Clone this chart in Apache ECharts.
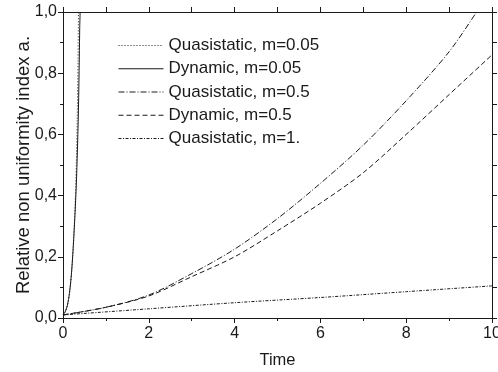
<!DOCTYPE html>
<html>
<head>
<meta charset="utf-8">
<script src="https://cdn.jsdelivr.net/npm/echarts@6/dist/echarts.min.js"></script>
<style>html,body{margin:0;padding:0;background:#fff}#c{width:498px;height:372px}</style>
</head>
<body>
<div id="c"></div>
<script>
// ---- data ----
var seriesNames = ['Quasistatic, m=0.05', 'Dynamic, m=0.05', 'Quasistatic, m=0.5', 'Dynamic, m=0.5', 'Quasistatic, m=1.'];

var qs005_t = [0, 0.05, 0.1, 0.15, 0.2, 0.25, 0.28, 0.31, 0.33, 0.35, 0.36];
var qs005_a = [0.01, 0.02, 0.04, 0.08, 0.15, 0.26, 0.36, 0.50, 0.64, 0.84, 1.0];

var dy005_t = [0, 0.05, 0.1, 0.15, 0.2, 0.25, 0.3, 0.33, 0.36, 0.38, 0.39, 0.40];
var dy005_a = [0.01, 0.02, 0.04, 0.08, 0.15, 0.26, 0.40, 0.52, 0.68, 0.85, 0.95, 1.0];

var qs05_t = [0, 1, 2, 3, 4, 5, 6, 7, 8, 9, 9.64];
var qs05_a = [0.01, 0.035, 0.075, 0.145, 0.225, 0.325, 0.44, 0.565, 0.71, 0.87, 1.0];

var dy05_t = [0, 1, 2, 3, 4, 5, 6, 7, 8, 9, 10];
var dy05_a = [0.01, 0.035, 0.072, 0.135, 0.2, 0.285, 0.375, 0.475, 0.60, 0.73, 0.86];

var qs1_t = [0, 2, 4, 6, 8, 10];
var qs1_a = [0.01, 0.03, 0.05, 0.067, 0.086, 0.105];

var xTickLabels = ['0', '2', '4', '6', '8', '10'];
var yTickLabels = ['0,0', '0,2', '0,4', '0,6', '0,8', '1,0'];

function pairs(t, a) { return t.map(function (v, i) { return [v, a[i]]; }); }

var FONT = '"Liberation Sans", Arial, sans-serif';
var INK = '#1a1a1a';

var lineTypes = [
  [1, 2],          // dotted
  'solid',
  [6, 2, 1, 2],    // dash-dot
  [5, 3],          // dashed
  [3, 1.5, 1, 1.5] // fine dash-dot
];
var datasets = [pairs(qs005_t, qs005_a), pairs(dy005_t, dy005_a), pairs(qs05_t, qs05_a), pairs(dy05_t, dy05_a), pairs(qs1_t, qs1_a)];

var series = seriesNames.map(function (n, i) {
  return {
    name: n, type: 'line', data: datasets[i], showSymbol: false, symbol: 'none',
    smooth: 0.3, clip: true,
    lineStyle: { color: INK, width: 1, type: lineTypes[i] },
    itemStyle: { color: INK },
    z: 3
  };
});

var chart = echarts.init(document.getElementById('c'), null, { renderer: 'canvas' });
chart.setOption({
  animation: false,
  backgroundColor: '#fff',
  textStyle: { fontFamily: FONT },
  grid: { left: 63, right: 6, top: 12, bottom: 54, containLabel: false, outerBoundsMode: 'none' },
  legend: {
    show: true,
    orient: 'vertical', left: 113, top: 32,
    itemWidth: 45, itemHeight: 16, itemGap: 6.25,
    itemStyle: { opacity: 0 },
    lineStyle: { width: 1 },
    textStyle: { fontFamily: FONT, fontSize: 17, lineHeight: 16, color: INK },
    data: seriesNames
  },
  xAxis: [{
    type: 'value', min: 0, max: 10, interval: 2,
    name: 'Time', nameLocation: 'middle', nameGap: 34,
    nameTextStyle: { fontFamily: FONT, fontSize: 16.5, color: INK },
    axisLine: { show: true, onZero: false, lineStyle: { color: INK, width: 1 } },
    axisTick: { show: true, inside: false, length: 5, lineStyle: { color: INK } },
    minorTick: { show: true, splitNumber: 2, length: 3, lineStyle: { color: INK } },
    splitLine: { show: false },
    axisLabel: { fontFamily: FONT, fontSize: 16, color: INK, margin: 8,
      formatter: function (v) { return xTickLabels[Math.round(v / 2)]; } }
  }, {
    type: 'value', position: 'top', min: 0, max: 10, interval: 1,
    axisLine: { show: true, onZero: false, lineStyle: { color: INK, width: 1 } },
    axisTick: { show: true, inside: false, length: 5, lineStyle: { color: INK } },
    axisLabel: { show: false }, splitLine: { show: false }
  }],
  yAxis: [{
    type: 'value', min: 0, max: 1, interval: 0.2,
    name: 'Relative non uniformity index a.', nameLocation: 'middle', nameGap: 30,
    nameMoveOverlap: false,
    nameTextStyle: { fontFamily: FONT, fontSize: 18.5, color: INK },
    axisLine: { show: true, onZero: false, lineStyle: { color: INK, width: 1 } },
    axisTick: { show: true, inside: false, length: 5, lineStyle: { color: INK } },
    minorTick: { show: true, splitNumber: 2, length: 3, lineStyle: { color: INK } },
    splitLine: { show: false },
    axisLabel: { fontFamily: FONT, fontSize: 16, color: INK, margin: 6,
      formatter: function (v) { return yTickLabels[Math.round(v / 0.2)]; } }
  }, {
    type: 'value', position: 'right', min: 0, max: 1, interval: 0.1,
    axisLine: { show: true, onZero: false, lineStyle: { color: INK, width: 1 } },
    axisTick: { show: true, inside: false, length: 5, lineStyle: { color: INK } },
    axisLabel: { show: false }, splitLine: { show: false }
  }],
  series: series
});
</script>
</body>
</html>
